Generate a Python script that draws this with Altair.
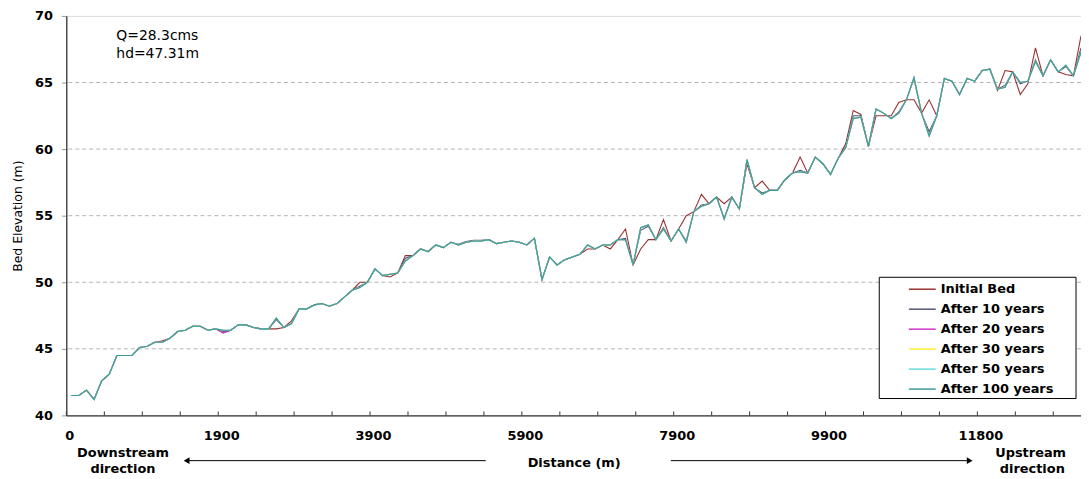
import json
import altair as alt
import pandas as pd

# ---------------- data ----------------
series_names = ["Initial Bed", "After 10 years", "After 20 years",
                "After 30 years", "After 50 years", "After 100 years"]
series_colors = ["#993333", "#55557a", "#cc33cc", "#ffee33", "#66dddd", "#3d9a9a"]

tick_labels = ["0", "1900", "3900", "5900", "7900", "9900", "11800"]
grid_values = [45, 50, 55, 60, 65]
y_ticks = [40, 45, 50, 55, 60, 65, 70]

initial_bed = [
    41.5, 41.5, 41.9, 41.2, 42.6, 43.1, 44.5, 44.5, 44.5, 45.1,
    45.2, 45.5, 45.6, 45.8, 46.3, 46.4, 46.7, 46.7, 46.4, 46.5,
    46.2, 46.4, 46.8, 46.8, 46.6, 46.5, 46.5, 46.5, 46.6, 47.1,
    48.0, 48.0, 48.3, 48.4, 48.2, 48.4, 48.9, 49.4, 50.0, 50.0,
    51.0, 50.5, 50.4, 50.7, 52.0, 52.0, 52.5, 52.3, 52.8, 52.6,
    53.0, 52.8, 53.0, 53.1, 53.1, 53.2, 52.9, 53.0, 53.1, 53.0,
    52.8, 53.3, 50.2, 51.9, 51.3, 51.7, 51.9, 52.1, 52.5, 52.5,
    52.8, 52.5, 53.2, 54.0, 51.3, 52.5, 53.2, 53.2, 54.7, 53.1,
    54.0, 55.0, 55.3, 56.6, 55.9, 56.4, 55.9, 56.4, 55.5, 58.9,
    57.1, 57.6, 56.9, 56.9, 57.7, 58.2, 59.4, 58.2, 59.4, 58.9,
    58.1, 59.3, 60.4, 62.9, 62.6, 60.2, 62.5, 62.5, 62.5, 63.5,
    63.7, 63.7, 62.7, 63.7, 62.5, 65.3, 65.1, 64.1, 65.3, 65.1,
    65.9, 66.0, 64.4, 65.9, 65.8, 64.1, 64.9, 67.6, 65.5, 66.7,
    65.8, 65.6, 65.5, 68.5,
]

after_10 = [
    41.5, 41.5, 41.9, 41.2, 42.6, 43.1, 44.5, 44.5, 44.5, 45.1,
    45.2, 45.5, 45.5, 45.8, 46.3, 46.4, 46.7, 46.7, 46.4, 46.5,
    46.3, 46.4, 46.8, 46.8, 46.6, 46.5, 46.5, 47.2, 46.6, 46.9,
    48.0, 48.0, 48.3, 48.4, 48.2, 48.4, 48.9, 49.4, 49.7, 50.0,
    51.0, 50.5, 50.6, 50.7, 51.8, 52.0, 52.5, 52.3, 52.8, 52.6,
    53.0, 52.85, 53.05, 53.15, 53.15, 53.2, 52.9, 53.0, 53.1, 53.0,
    52.8, 53.3, 50.2, 51.9, 51.3, 51.7, 51.9, 52.1, 52.8, 52.5,
    52.8, 52.8, 53.2, 53.3, 51.3, 53.9, 54.2, 53.2, 54.1, 53.1,
    54.0, 53.1, 55.3, 55.8, 55.9, 56.4, 54.8, 56.4, 55.5, 59.2,
    57.1, 56.7, 56.9, 56.9, 57.7, 58.2, 58.4, 58.2, 59.4, 58.9,
    58.1, 59.3, 60.2, 62.5, 62.5, 60.2, 63.0, 62.7, 62.3, 62.8,
    63.7, 65.3, 62.7, 61.3, 62.5, 65.3, 65.1, 64.1, 65.3, 65.1,
    65.9, 66.0, 64.5, 64.8, 65.8, 64.9, 65.1, 66.7, 65.5, 66.7,
    65.8, 66.2, 65.5, 67.6,
]

after_20 = [
    41.5, 41.5, 41.9, 41.2, 42.6, 43.1, 44.5, 44.5, 44.5, 45.1,
    45.2, 45.5, 45.5, 45.8, 46.3, 46.4, 46.7, 46.7, 46.4, 46.5,
    46.2, 46.4, 46.8, 46.8, 46.6, 46.5, 46.5, 47.3, 46.6, 46.9,
    48.0, 48.0, 48.3, 48.4, 48.2, 48.4, 48.9, 49.4, 49.6, 50.0,
    51.0, 50.5, 50.6, 50.7, 51.6, 52.0, 52.5, 52.3, 52.8, 52.6,
    53.0, 52.8, 53.0, 53.1, 53.1, 53.2, 52.9, 53.0, 53.1, 53.0,
    52.8, 53.3, 50.2, 51.9, 51.3, 51.7, 51.9, 52.1, 52.8, 52.5,
    52.8, 52.8, 53.2, 53.2, 51.3, 54.1, 54.3, 53.2, 54.0, 53.1,
    54.0, 53.0, 55.3, 55.7, 55.9, 56.4, 54.75, 56.4, 55.5, 59.2,
    57.1, 56.6, 56.9, 56.9, 57.7, 58.2, 58.3, 58.2, 59.4, 58.9,
    58.1, 59.3, 60.1, 62.3, 62.4, 60.2, 63.0, 62.7, 62.3, 62.7,
    63.7, 65.35, 62.7, 61.0, 62.5, 65.3, 65.1, 64.1, 65.3, 65.1,
    65.9, 66.0, 64.5, 64.65, 65.8, 65.0, 65.1, 66.6, 65.5, 66.7,
    65.8, 66.3, 65.5, 67.3,
]

after_30 = [
    41.5, 41.5, 41.9, 41.2, 42.6, 43.1, 44.5, 44.5, 44.5, 45.1,
    45.2, 45.5, 45.5, 45.8, 46.3, 46.4, 46.7, 46.7, 46.4, 46.5,
    46.4, 46.4, 46.8, 46.8, 46.6, 46.5, 46.5, 47.3, 46.6, 46.9,
    48.0, 48.0, 48.3, 48.4, 48.2, 48.4, 48.9, 49.4, 49.6, 50.0,
    51.0, 50.5, 50.6, 50.7, 51.6, 52.0, 52.5, 52.3, 52.8, 52.6,
    53.0, 52.8, 53.0, 53.1, 53.1, 53.2, 52.9, 53.0, 53.1, 53.0,
    52.8, 53.3, 50.2, 51.9, 51.3, 51.7, 51.9, 52.1, 52.8, 52.5,
    52.8, 52.8, 53.2, 53.2, 51.3, 54.1, 54.3, 53.2, 54.0, 53.1,
    54.0, 53.0, 55.3, 55.7, 55.9, 56.4, 54.75, 56.4, 55.5, 59.2,
    57.1, 56.6, 56.9, 56.9, 57.7, 58.2, 58.3, 58.2, 59.4, 58.9,
    58.1, 59.3, 60.1, 62.3, 62.4, 60.2, 63.0, 62.7, 62.3, 62.7,
    63.7, 65.35, 62.7, 61.0, 62.5, 65.3, 65.1, 64.1, 65.3, 65.1,
    65.9, 66.0, 64.5, 64.65, 65.8, 65.0, 65.1, 66.6, 65.5, 66.7,
    65.8, 66.3, 65.5, 67.3,
]

after_50 = [
    41.5, 41.5, 41.9, 41.2, 42.6, 43.1, 44.5, 44.5, 44.5, 45.1,
    45.2, 45.5, 45.5, 45.8, 46.3, 46.4, 46.7, 46.7, 46.4, 46.5,
    46.4, 46.4, 46.8, 46.8, 46.6, 46.5, 46.5, 47.3, 46.6, 46.9,
    48.0, 48.0, 48.3, 48.4, 48.2, 48.4, 48.9, 49.4, 49.6, 50.0,
    51.0, 50.5, 50.6, 50.7, 51.6, 52.0, 52.5, 52.3, 52.8, 52.6,
    53.0, 52.8, 53.0, 53.1, 53.1, 53.2, 52.9, 53.0, 53.1, 53.0,
    52.8, 53.3, 50.2, 51.9, 51.3, 51.7, 51.9, 52.1, 52.8, 52.5,
    52.8, 52.8, 53.2, 53.2, 51.3, 54.1, 54.3, 53.2, 54.0, 53.1,
    54.0, 53.0, 55.3, 55.7, 55.9, 56.4, 54.75, 56.4, 55.5, 59.2,
    57.1, 56.6, 56.9, 56.9, 57.7, 58.2, 58.3, 58.2, 59.4, 58.9,
    58.1, 59.3, 60.1, 62.3, 62.4, 60.2, 63.0, 62.7, 62.3, 62.7,
    63.7, 65.4, 62.7, 61.0, 62.5, 65.3, 65.1, 64.1, 65.3, 65.1,
    65.9, 66.0, 64.5, 64.65, 65.8, 65.0, 65.1, 66.6, 65.5, 66.7,
    65.8, 66.3, 65.5, 67.3,
]

after_100 = [
    41.5, 41.5, 41.9, 41.2, 42.6, 43.1, 44.5, 44.5, 44.5, 45.1,
    45.2, 45.5, 45.5, 45.8, 46.3, 46.4, 46.7, 46.7, 46.4, 46.5,
    46.4, 46.4, 46.8, 46.8, 46.6, 46.5, 46.5, 47.3, 46.6, 46.9,
    48.0, 48.0, 48.3, 48.4, 48.2, 48.4, 48.9, 49.4, 49.6, 50.0,
    51.0, 50.5, 50.6, 50.7, 51.6, 52.0, 52.5, 52.3, 52.8, 52.6,
    53.0, 52.8, 53.0, 53.1, 53.1, 53.2, 52.9, 53.0, 53.1, 53.0,
    52.8, 53.3, 50.2, 51.9, 51.3, 51.7, 51.9, 52.1, 52.8, 52.5,
    52.8, 52.8, 53.2, 53.2, 51.3, 54.1, 54.3, 53.2, 54.0, 53.1,
    54.0, 53.0, 55.3, 55.7, 55.9, 56.4, 54.75, 56.4, 55.5, 59.2,
    57.1, 56.6, 56.9, 56.9, 57.7, 58.2, 58.3, 58.2, 59.4, 58.9,
    58.1, 59.3, 60.1, 62.3, 62.4, 60.2, 63.0, 62.7, 62.3, 62.7,
    63.7, 65.35, 62.7, 61.0, 62.5, 65.3, 65.1, 64.1, 65.3, 65.1,
    65.9, 66.0, 64.5, 64.65, 65.8, 65.0, 65.1, 66.6, 65.5, 66.7,
    65.8, 66.3, 65.5, 67.3,
]

annotation_lines = ["Q=28.3cms", "hd=47.31m"]
direction_left = ["Downstream", "direction"]
direction_right = ["Upstream", "direction"]

# ---------------- layout constants ----------------
W, H = 1021, 402
FONT = "DejaVu Sans"
X_MIN, X_MAX = -0.655, 133
tick_positions = [round(5 * k - 0.65, 2) for k in range(27)]

all_series = [initial_bed, after_10, after_20, after_30, after_50, after_100]
rows = []
for name, vals in zip(series_names, all_series):
    for i, v in enumerate(vals):
        rows.append({"idx": i, "elev": v, "series": name})
df = pd.DataFrame(rows)

labels_js = json.dumps(tick_labels)
label_expr = (
    f"(round((datum.value + 0.65) / 5) % 4 == 0) ? "
    f"{labels_js}[round((datum.value + 0.65) / 5) / 4] : ''"
)

x_scale = alt.Scale(domain=[X_MIN, X_MAX], nice=False, zero=False)
y_scale = alt.Scale(domain=[40, 70], nice=False, zero=False)

x_axis = alt.Axis(
    values=tick_positions, labelExpr=label_expr, ticks=False, grid=False,
    domainColor="#000000", domainWidth=1,
    labelFont=FONT, labelFontSize=13, labelFontWeight="bold", labelColor="#000000",
    labelPadding=14, labelOffset=3, labelFlush=False, labelOverlap=False, labelBound=False,
    title="Distance (m)", titleFont=FONT, titleFontSize=13, titleFontWeight="bold",
    titleColor="#000000", titleY=47.5, titleBaseline="middle",
)
y_axis = alt.Axis(
    values=y_ticks, grid=False, tickSize=5, tickColor="#999999",
    domainColor="#000000", domainWidth=1,
    labelFont=FONT, labelFontSize=13, labelFontWeight="bold", labelColor="#000000",
    labelPadding=9, labelFlush=False,
    title="Bed Elevation (m)", titleFont=FONT, titleFontSize=12.5,
    titleFontWeight="normal", titleColor="#000000",
    titleX=-48.7, titleY=H / 2, titleBaseline="middle", titleAngle=270,
)

grid = alt.Chart(pd.DataFrame({"v": grid_values})).mark_rule(
    color="#b4b4b4", strokeDash=[4, 3], strokeWidth=1
).encode(y=alt.Y("v:Q", scale=y_scale, axis=y_axis))

ticks = alt.Chart(pd.DataFrame({"t": tick_positions})).mark_rule(
    color="#333333", strokeWidth=1
).encode(
    x=alt.X("t:Q", scale=x_scale, axis=x_axis),
    y=alt.value(H - 4), y2=alt.value(H),
)

legend = alt.Legend(
    orient="none", legendX=854.8, legendY=268.5, title=None,
    symbolType="M-2.7,0L2.7,0", symbolSize=100, symbolStrokeWidth=1.5,
    labelFont=FONT, labelFontSize=13, labelFontWeight="bold", labelColor="#000000",
    labelOffset=12, rowPadding=6.1, padding=0,
)

line_layers = []
for name in series_names:
    line_layers.append(
        alt.Chart(df).transform_filter(alt.datum.series == name)
        .mark_line(strokeWidth=1.1)
        .encode(
            x=alt.X("idx:Q", scale=x_scale, axis=x_axis),
            y=alt.Y("elev:Q", scale=y_scale, axis=y_axis),
            color=alt.Color("series:N",
                            scale=alt.Scale(domain=series_names, range=series_colors),
                            legend=legend),
        )
    )

legend_box = alt.Chart(pd.DataFrame({"k": [0]})).mark_rect(
    fill="white", stroke="#000000", strokeWidth=1
).encode(x=alt.value(818), x2=alt.value(1016), y=alt.value(263), y2=alt.value(385))

ann = alt.Chart(pd.DataFrame({"t": annotation_lines, "r": [0, 1]})).mark_text(
    font=FONT, fontSize=14, align="left", baseline="middle", color="#000000"
).encode(text="t:N", x=alt.value(50.3), y=alt.value(20.5)).transform_filter("datum.r == 0")
ann2 = alt.Chart(pd.DataFrame({"t": annotation_lines, "r": [0, 1]})).mark_text(
    font=FONT, fontSize=14, align="left", baseline="middle", color="#000000"
).encode(text="t:N", x=alt.value(50.3), y=alt.value(38.5)).transform_filter("datum.r == 1")


def text_at(txt, x, y):
    return alt.Chart(pd.DataFrame({"t": [txt]})).mark_text(
        font=FONT, fontSize=13, fontWeight="bold", align="center",
        baseline="middle", color="#000000"
    ).encode(text="t:N", x=alt.value(x), y=alt.value(y))


dir_texts = [
    text_at(direction_left[0], 57, 439.5),
    text_at(direction_left[1], 57, 456),
    text_at(direction_right[0], 970.3, 439.5),
    text_at(direction_right[1], 972, 456),
]

dummy = pd.DataFrame({"k": [0]})
arrow_l = alt.Chart(dummy).mark_rule(color="#000000", strokeWidth=1).encode(
    x=alt.value(122), x2=alt.value(422), y=alt.value(447.5))
head_l = alt.Chart(dummy).mark_point(
    shape="triangle-left", filled=True, color="#000000", size=45, opacity=1
).encode(x=alt.value(121), y=alt.value(447.5))
arrow_r = alt.Chart(dummy).mark_rule(color="#000000", strokeWidth=1).encode(
    x=alt.value(608.3), x2=alt.value(908), y=alt.value(447.5))
head_r = alt.Chart(dummy).mark_point(
    shape="triangle-right", filled=True, color="#000000", size=45, opacity=1
).encode(x=alt.value(909), y=alt.value(447.5))

chart = alt.layer(
    grid, ticks, *line_layers, legend_box, ann, ann2, *dir_texts,
    arrow_l, head_l, arrow_r, head_r,
).properties(
    width=W, height=H,
    autosize=alt.AutoSizeParams(type="none"),
    padding={"left": 58.7, "top": 6.5, "right": 0, "bottom": 62},
).configure_view(
    stroke="#000000", strokeWidth=1, fill="white"
).configure(background="white")

chart.save("out.html", embed_options={"renderer": "svg", "actions": False})
